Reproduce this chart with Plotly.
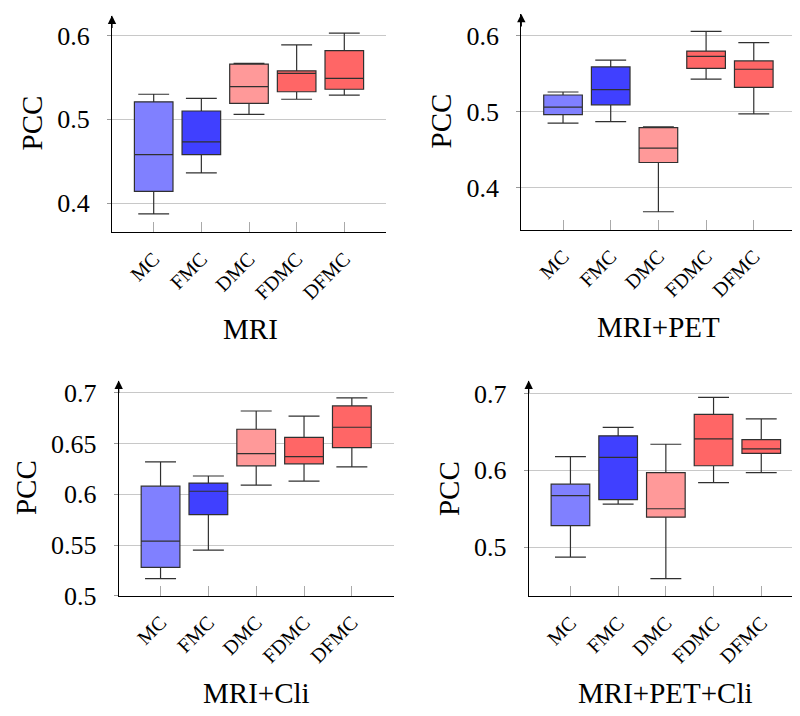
import plotly.graph_objects as go

categories = ["MC", "FMC", "DMC", "FDMC", "DFMC"]
box_colors = ["#8080FF", "#4040FF", "#FF9999", "#FF6666", "#FF6666"]
panel_titles = ["MRI", "MRI+PET", "MRI+Cli", "MRI+PET+Cli"]

# MRI
mri_lower = [0.387, 0.436, 0.506, 0.524, 0.529]
mri_q1 = [0.414, 0.458, 0.519, 0.533, 0.536]
mri_med = [0.458, 0.473, 0.539, 0.555, 0.549]
mri_q3 = [0.521, 0.510, 0.566, 0.558, 0.582]
mri_upper = [0.530, 0.525, 0.567, 0.589, 0.603]

# MRI+PET
pet_lower = [0.485, 0.487, 0.368, 0.543, 0.497]
pet_q1 = [0.496, 0.509, 0.433, 0.557, 0.532]
pet_med = [0.506, 0.529, 0.452, 0.573, 0.556]
pet_q3 = [0.522, 0.559, 0.479, 0.580, 0.567]
pet_upper = [0.526, 0.568, 0.480, 0.606, 0.591]

# MRI+Cli
cli_lower = [0.517, 0.545, 0.609, 0.613, 0.627]
cli_q1 = [0.528, 0.580, 0.628, 0.630, 0.646]
cli_med = [0.554, 0.603, 0.640, 0.637, 0.666]
cli_q3 = [0.608, 0.611, 0.664, 0.656, 0.687]
cli_upper = [0.632, 0.618, 0.682, 0.677, 0.695]

# MRI+PET+Cli
all_lower = [0.487, 0.556, 0.459, 0.584, 0.597]
all_q1 = [0.528, 0.562, 0.539, 0.606, 0.622]
all_med = [0.567, 0.617, 0.550, 0.641, 0.628]
all_q3 = [0.582, 0.645, 0.597, 0.673, 0.640]
all_upper = [0.618, 0.656, 0.634, 0.695, 0.667]

y_ranges = [[0.365, 0.624], [0.344, 0.629], [0.5, 0.712], [0.436, 0.717]]
y_ticks = [[0.4, 0.5, 0.6], [0.4, 0.5, 0.6], [0.5, 0.55, 0.6, 0.65, 0.7], [0.5, 0.6, 0.7]]
y_ticktext = [["0.4", "0.5", "0.6"], ["0.4", "0.5", "0.6"],
              ["0.5", "0.55", "0.6", "0.65", "0.7"], ["0.5", "0.6", "0.7"]]

panels = [
    (mri_lower, mri_q1, mri_med, mri_q3, mri_upper),
    (pet_lower, pet_q1, pet_med, pet_q3, pet_upper),
    (cli_lower, cli_q1, cli_med, cli_q3, cli_upper),
    (all_lower, all_q1, all_med, all_q3, all_upper),
]

W, H = 800, 716
# pixel boxes for each panel: (left, right, top, bottom)
px_boxes = [(104, 378, 6.7, 228.5), (513.3, 787.5, 5, 226),
            (110.7, 385.7, 380, 600.3), (520.7, 795, 380, 600.7)]
pcc_pos = [(24, 117), (433, 115), (18, 490), (441, 491)]
title_pos = [(242, 327), (650, 325), (248, 700), (657, 700)]

FONT = "'Liberation Serif', 'Times New Roman', Times, serif"

fig = go.Figure()
layout = dict(
    width=W, height=H, margin=dict(l=0, r=0, t=0, b=0),
    paper_bgcolor="white", plot_bgcolor="white",
    showlegend=False, boxmode="overlay",
    font=dict(family=FONT, color="black"),
)
annotations = []
cat_x = list(range(1, len(categories) + 1))

for p, (lo, q1, md, q3, up) in enumerate(panels):
    sfx = "" if p == 0 else str(p + 1)
    xa, ya = "x" + sfx, "y" + sfx
    for i, c in enumerate(categories):
        fig.add_trace(go.Box(
            x=[cat_x[i]], q1=[q1[i]], median=[md[i]], q3=[q3[i]],
            lowerfence=[lo[i]], upperfence=[up[i]],
            fillcolor=box_colors[i], line=dict(color="#303030", width=1.2),
            width=0.81, whiskerwidth=0.8, xaxis=xa, yaxis=ya,
            name=c, showlegend=False, boxpoints=False,
        ))
    l, r, t, b = px_boxes[p]
    layout["xaxis" + sfx] = dict(
        domain=[l / W, r / W], anchor=ya, range=[0.125, 5.875],
        tickvals=cat_x, ticktext=categories, tickangle=-45,
        tickfont=dict(family=FONT, size=20),
        ticks="inside", ticklen=10, tickcolor="#aaaaaa", tickwidth=1,
        ticklabelstandoff=6,
        showline=True, linecolor="black", linewidth=1.2,
        showgrid=False, zeroline=False, fixedrange=True,
    )
    layout["yaxis" + sfx] = dict(
        domain=[1 - b / H, 1 - t / H], anchor=xa, range=y_ranges[p],
        tickvals=y_ticks[p], ticktext=y_ticktext[p],
        tickfont=dict(family=FONT, size=26),
        ticks="outside", ticklen=4, tickcolor="#999999",
        ticklabelstandoff=12,
        showline=True, linecolor="black", linewidth=1.2,
        showgrid=True, gridcolor="#c8c8c8", gridwidth=1,
        zeroline=False, fixedrange=True,
    )
    # arrow on top of y axis
    annotations.append(dict(
        xref=xa + " domain", yref=ya + " domain", x=0, y=1,
        ax=0, ay=14, text="", showarrow=True, arrowhead=2,
        arrowsize=1.4, arrowwidth=1.2, arrowcolor="black",
    ))
    px_, py_ = pcc_pos[p]
    annotations.append(dict(
        xref="paper", yref="paper", x=px_ / W, y=1 - py_ / H,
        text="PCC", textangle=-90, showarrow=False,
        font=dict(family=FONT, size=29), xanchor="center", yanchor="middle",
    ))
    tx, ty = title_pos[p]
    annotations.append(dict(
        xref="paper", yref="paper", x=tx / W, y=1 - ty / H,
        text=panel_titles[p], showarrow=False,
        font=dict(family=FONT, size=29), xanchor="center", yanchor="middle",
    ))

layout["annotations"] = annotations
fig.update_layout(**layout)
fig.write_html("out.html")
